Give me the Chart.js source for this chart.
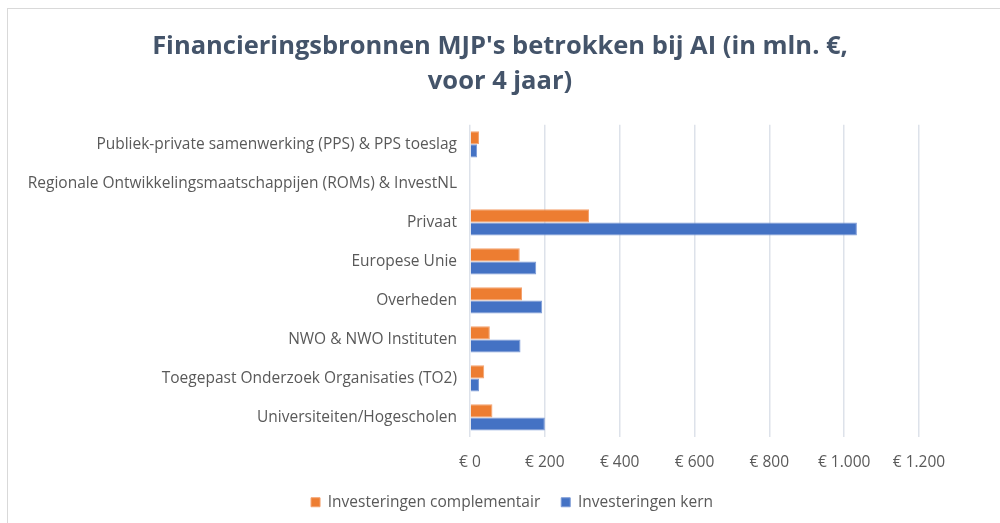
<!DOCTYPE html>
<html>
<head>
<meta charset="utf-8">
<script src="https://cdn.jsdelivr.net/npm/chart.js@4"></script>
<style>
  html, body { margin: 0; padding: 0; background: #fff; }
  #frame { position: absolute; left: 7px; top: 8px; width: 1010px; height: 530px; border: 1px solid #d9d9d9; }
  #wrap { position: absolute; left: 0; top: 0; width: 1000px; height: 523px; }
</style>
</head>
<body>
<div id="frame"></div>
<div id="wrap"><canvas id="chart" width="1000" height="523"></canvas></div>
<script>
const categories = [
  'Publiek-private samenwerking (PPS) & PPS toeslag',
  'Regionale Ontwikkelingsmaatschappijen (ROMs) & InvestNL',
  'Privaat',
  'Europese Unie',
  'Overheden',
  'NWO & NWO Instituten',
  'Toegepast Onderzoek Organisaties (TO2)',
  'Universiteiten/Hogescholen'
];
const complementair = [24, 0, 318, 133, 139, 53, 38, 60];
const kern = [19, 0, 1034, 177, 193, 135, 24, 200];
const xTicks = [0, 200, 400, 600, 800, 1000, 1200];

const fontFamily = '"Open Sans", "Noto Sans", sans-serif';

function euro(v) {
  const s = String(v).replace(/\B(?=(\d{3})+(?!\d))/g, '.');
  return '€ ' + s;
}

// nudge the legend a bit to the right, like in the original
const legendShift = {
  id: 'legendShift',
  afterLayout(chart) {
    if (chart.legend) {
      chart.legend.left += 12;
      chart.legend.right += 12;
    }
  }
};

document.addEventListener('DOMContentLoaded', () => {
  const ctx = document.getElementById('chart').getContext('2d');
  new Chart(ctx, {
    type: 'bar',
    data: {
      labels: categories,
      datasets: [
        {
          label: 'Investeringen complementair',
          data: complementair,
          backgroundColor: '#ED7D31',
          borderColor: '#F4A26E',
          borderWidth: 1
        },
        {
          label: 'Investeringen kern',
          data: kern,
          backgroundColor: '#4472C4',
          borderColor: '#7C9AD6',
          borderWidth: 1
        }
      ]
    },
    plugins: [legendShift],
    options: {
      indexAxis: 'y',
      responsive: false,
      animation: false,
      barPercentage: 1,
      categoryPercentage: 0.67,
      layout: { padding: { left: 10, right: 10, top: 12, bottom: 3 } },
      scales: {
        x: {
          min: 0,
          max: 1200,
          afterBuildTicks: (scale) => { scale.ticks = xTicks.map(v => ({ value: v })); },
          afterFit: (scale) => { scale.height -= 14; },
          grid: { color: '#DDE2EA', drawTicks: false, lineWidth: 1.5 },
          border: { display: false },
          ticks: {
            padding: 16,
            color: '#595959',
            font: { family: fontFamily, size: 15.5 },
            callback: (v) => euro(v)
          }
        },
        y: {
          grid: { display: false, drawTicks: false },
          border: { display: false },
          afterFit: (scale) => { scale.width = 460; },
          ticks: {
            padding: 13,
            color: '#595959',
            font: { family: fontFamily, size: 15.5 }
          }
        },
        // empty right-hand axis only to reserve space to the right of the plot
        spacer: {
          type: 'linear',
          position: 'right',
          grid: { display: false, drawTicks: false },
          border: { display: false },
          ticks: { display: false },
          afterFit: (scale) => { scale.width = 71; }
        }
      },
      plugins: {
        title: {
          display: true,
          text: ["Financieringsbronnen MJP's betrokken bij AI (in mln. €,", 'voor 4 jaar)'],
          color: '#44546A',
          font: { family: fontFamily, size: 25.5, weight: 'bold', lineHeight: 1.37 },
          padding: { top: 17, bottom: 26 }
        },
        legend: {
          position: 'bottom',
          labels: {
            boxWidth: 9,
            boxHeight: 9,
            color: '#595959',
            font: { family: fontFamily, size: 15.5 },
            padding: 21
          }
        },
        tooltip: { enabled: false }
      }
    }
  });
});
</script>
</body>
</html>
